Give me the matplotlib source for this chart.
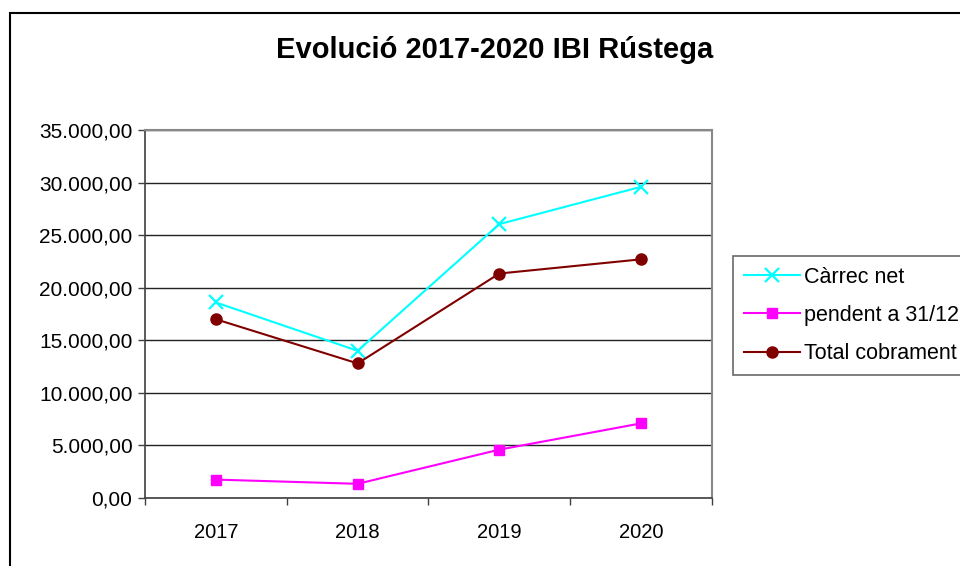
import matplotlib
matplotlib.use("Agg")
import matplotlib.pyplot as plt
from matplotlib.patches import Rectangle
from matplotlib.ticker import FuncFormatter, FixedLocator

plt.rcParams['font.family'] = ['Liberation Sans', 'DejaVu Sans']

years = ["2017", "2018", "2019", "2020"]
carrec_net = [18600, 14000, 26050, 29600]
pendent = [1750, 1350, 4600, 7100]
total_cobrament = [17000, 12800, 21350, 22700]

title = "Evolució 2017-2020 IBI Rústega"
labels = ["Càrrec net", "pendent a 31/12", "Total cobrament"]

fig = plt.figure(figsize=(9.6, 5.66), dpi=100)
ax = fig.add_axes([145/960, 1-498/566, (712-145)/960, (498-130)/566])

x = [i + 0.5 for i in range(len(years))]
ax.plot(x, carrec_net, color='#00FFFF', lw=1.5, marker='x', ms=9.5, mew=1.6, label=labels[0], zorder=3)
ax.plot(x, pendent, color='#FF00FF', lw=1.5, marker='s', ms=7.8, label=labels[1], zorder=3)
ax.plot(x, total_cobrament, color='#800000', lw=1.5, marker='o', ms=8, label=labels[2], zorder=3)

ax.set_xlim(0, len(years))
ax.set_ylim(0, 35000)
ax.set_yticks(range(0, 35001, 5000))

def fmt(v, pos):
    s = f"{int(round(v)):,}".replace(",", ".")
    return s + ",00"
ax.yaxis.set_major_formatter(FuncFormatter(fmt))

ax.xaxis.set_major_locator(FixedLocator(range(len(years) + 1)))
ax.set_xticklabels([])
ax.xaxis.set_minor_locator(FixedLocator(x))
ax.set_xticks(x, years, minor=True)
ax.tick_params(axis='x', which='minor', length=0, pad=18, labelsize=14.5)
ax.tick_params(axis='x', which='major', length=5, width=1, color='#404040', direction='out')
ax.tick_params(axis='y', length=5, width=1, color='#404040', direction='out', labelsize=15, pad=4)

ax.grid(axis='y', color='#222222', lw=1)
ax.set_axisbelow(True)
for s in ['top', 'right']:
    ax.spines[s].set_color('#888888')
    ax.spines[s].set_linewidth(1.5)
for s in ['left', 'bottom']:
    ax.spines[s].set_color('#404040')
    ax.spines[s].set_linewidth(1.2)

fig.text(495/960, 1-50/566, title, ha='center', va='center', fontsize=21, fontweight='bold')

leg = fig.legend(loc='upper left', bbox_to_anchor=(733/960, 1-256/566), borderaxespad=0,
                 fontsize=15.5, frameon=True, fancybox=False, handlelength=2.6,
                 labelspacing=0.8, handletextpad=0.2, borderpad=0.5)
leg.get_frame().set_edgecolor('#444444')
leg.get_frame().set_linewidth(1.2)

fig.patches.append(Rectangle((10/960, -0.1), 2, 1-13/566+0.1, transform=fig.transFigure,
                             fill=False, ec='black', lw=1.5))

fig.savefig("out.png", dpi=100)
